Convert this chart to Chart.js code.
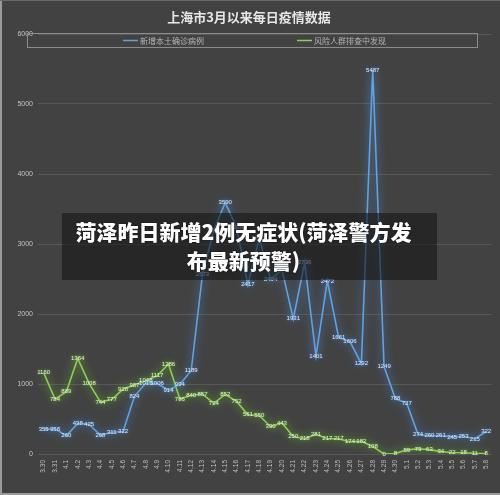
<!DOCTYPE html>
<html>
<head>
<meta charset="utf-8">
<script src="https://cdn.jsdelivr.net/npm/chart.js@4"></script>
<style>
  html, body { margin: 0; padding: 0; background: #424242; }
  #wrap { position: relative; width: 500px; height: 495px; }
  #banner {
    position: absolute; left: 62px; top: 213px; width: 363px; height: 63px;
    padding: 4px 12px 0 0; box-sizing: content-box;
    background: rgba(22,22,22,0.6);
    color: #fff; font-family: "Noto Sans CJK SC", sans-serif; font-weight: 900;
    font-size: 21px; line-height: 29px; text-align: center;
    text-shadow: 0 0 2px rgba(0,0,0,0.6);
  }
</style>
</head>
<body>
<div id="wrap">
  <canvas id="myChart" width="500" height="495"></canvas>
  <div id="banner">菏泽昨日新增2例无症状(菏泽警方发<br>布最新预警)</div>
</div>
<script>
const ctx = document.getElementById("myChart");

const titleText = "上海市3月以来每日疫情数据";
const dates = ["3.30","3.31","4.1","4.2","4.3","4.4","4.5","4.6","4.7","4.8",
  "4.9","4.10","4.11","4.12","4.13","4.14","4.15","4.16","4.17","4.18",
  "4.19","4.20","4.21","4.22","4.23","4.24","4.25","4.26","4.27","4.28",
  "4.29","4.30","5.1","5.2","5.3","5.4","5.5","5.6","5.7","5.8"];
const confirmedName = "新增本土确诊病例";
const confirmed = [355,358,260,438,425,268,311,322,824,1015,
  1006,914,994,1189,2573,3200,3590,3238,2417,3084,
  2494,2634,1931,2736,1401,2472,1661,1606,1292,5487,
  1249,788,727,274,260,261,245,253,215,322];
const screenedName = "风险人群排查中发现";
const screened = [1160,784,889,1364,1008,744,777,928,987,1048,
  1117,1286,786,840,857,724,852,752,561,550,
  390,443,250,218,281,217,217,174,182,108,
  0,8,59,73,63,34,22,18,11,8];
const yTicks = [0,1000,2000,3000,4000,5000,6000];

const blue = "#62a2de";
const green = "#8fce55";

// glow on the lines, like the excel style
const glow = {
  id: "glow",
  beforeDatasetDraw(chart, args) {
    const c = chart.ctx;
    c.save();
    c.shadowColor = args.index === 0 ? "rgba(80,150,240,1)" : "rgba(120,205,50,1)";
    c.shadowBlur = 10;
  },
  afterDatasetDraw(chart) {
    chart.ctx.restore();
  }
};

// value labels sitting on the points
const valueLabels = {
  id: "valueLabels",
  afterDatasetsDraw(chart) {
    const c = chart.ctx;
    chart.data.datasets.forEach((ds, i) => {
      const meta = chart.getDatasetMeta(i);
      c.save();
      c.font = "6px 'Liberation Sans', sans-serif";
      c.textAlign = "center";
      c.textBaseline = "middle";
      c.shadowColor = i === 0 ? "rgba(70,140,230,1)" : "rgba(110,190,50,1)";
      c.shadowBlur = 3;
      c.fillStyle = i === 0 ? "#dce9f7" : "#e3f2d4";
      meta.data.forEach((pt, j) => {
        c.fillText(String(ds.data[j]), pt.x, pt.y);
      });
      c.restore();
    });
  }
};

const bgAndLegend = {
  id: "bgAndLegend",
  beforeDraw(chart) {
    const c = chart.ctx;
    c.save();
    c.fillStyle = "#424242";
    c.fillRect(0, 0, chart.width, chart.height);
    c.fillStyle = "#9a9a9a";
    c.fillRect(0, 0, 2, chart.height);
    c.fillRect(0, chart.height - 2, chart.width, 2);
    c.fillStyle = "#6a6a6a";
    c.fillRect(0, 0, chart.width, 1);
    c.restore();
  },
  afterDraw(chart) {
    const c = chart.ctx;
    c.save();
    c.strokeStyle = "#8c8c8c";
    c.lineWidth = 1;
    c.strokeRect(27.5, 33.5, 450, 14);
    const items = [[123, confirmedName, blue], [297, screenedName, green]];
    c.font = "8px 'Noto Sans CJK SC', sans-serif";
    c.textBaseline = "middle";
    items.forEach(([x, name, col]) => {
      c.strokeStyle = col;
      c.lineWidth = 1.5;
      c.beginPath();
      c.moveTo(x, 40.5);
      c.lineTo(x + 15, 40.5);
      c.stroke();
      c.fillStyle = "#b4b4b4";
      c.fillText(name, x + 17, 40.5);
    });
    c.restore();
  }
};

let chart = new Chart(ctx, {
  type: "line",
  data: {
    labels: dates,
    datasets: [{
      label: confirmedName,
      data: confirmed,
      borderColor: blue,
      borderWidth: 1.6,
      pointRadius: 0,
      tension: 0
    }, {
      label: screenedName,
      data: screened,
      borderColor: green,
      borderWidth: 1.6,
      pointRadius: 0,
      tension: 0
    }]
  },
  options: {
    responsive: false,
    animation: false,
    devicePixelRatio: 1,
    layout: { padding: { left: 0, right: 2, top: 0, bottom: 0 } },
    plugins: {
      legend: { display: false },
      tooltip: { enabled: false },
      title: {
        display: true,
        text: titleText,
        color: "#e6e6e6",
        font: { family: "'Noto Sans CJK SC', sans-serif", size: 13, weight: "bold", lineHeight: 1.2 },
        padding: { top: 9, bottom: 9.4 }
      }
    },
    scales: {
      x: {
        offset: true,
        grid: { display: false, drawTicks: false },
        border: { display: false },
        ticks: {
          color: "#bdbdbd",
          font: { family: "'Liberation Sans', sans-serif", size: 6.5 },
          autoSkip: false,
          minRotation: 90,
          maxRotation: 90,
          padding: 6
        },
        afterFit(s) { s.height = 41; }
      },
      y: {
        min: 0,
        max: 6000,
        afterBuildTicks(s) { s.ticks = yTicks.map(v => ({ value: v })); },
        grid: { color: "#585858", lineWidth: 1, drawTicks: false },
        border: { display: false },
        ticks: {
          color: "#c4c4c4",
          font: { family: "'Liberation Sans', sans-serif", size: 7 },
          padding: 5,
          callback: v => String(v)
        },
        afterFit(s) { s.width = 38; }
      }
    }
  },
  plugins: [bgAndLegend, glow, valueLabels]
});
</script>
</body>
</html>
